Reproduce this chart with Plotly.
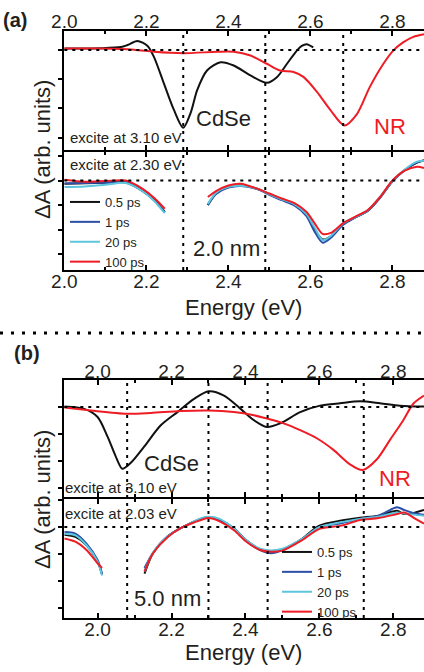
import plotly.graph_objects as go

# ---------------- data ----------------
# panel (a), upper: excite at 3.10 eV
a_cdse_E = [2.00, 2.09, 2.138, 2.154, 2.178, 2.203, 2.219, 2.243, 2.267, 2.290, 2.308, 2.324, 2.348,
            2.381, 2.413, 2.454, 2.494, 2.519, 2.543, 2.567, 2.579, 2.591, 2.607]
a_cdse_v = [0.05, 0.06, 0.10, 0.17, 0.31, 0.14, -0.25, -1.15, -2.04, -2.66, -2.15, -1.37, -0.70,
            -0.42, -0.53, -0.87, -1.12, -0.92, -0.47, -0.02, 0.14, 0.20, 0.09]
a_nr_E = [2.00, 2.089, 2.170, 2.219, 2.290, 2.373, 2.413, 2.454, 2.494, 2.526, 2.559, 2.583, 2.616,
          2.648, 2.683, 2.713, 2.745, 2.778, 2.802, 2.826, 2.851, 2.877]
a_nr_v = [0.05, 0.05, 0.01, -0.06, -0.11, -0.06, -0.06, -0.19, -0.47, -0.70, -0.75, -0.92, -1.43,
          -2.04, -2.58, -2.20, -1.26, -0.47, -0.02, 0.26, 0.45, 0.54]

# panel (a), lower: excite at 2.30 eV (two spectral windows)
a_lo_E = [2.00, 2.05, 2.10, 2.15, 2.19, 2.22, 2.245, None,
          2.35, 2.37, 2.40, 2.43, 2.47, 2.50, 2.53, 2.56, 2.59, 2.61, 2.63, 2.65, 2.68,
          2.71, 2.74, 2.77, 2.80, 2.83, 2.86, 2.877]
a_lo_05 = [-0.13, -0.11, -0.09, -0.07, -0.40, -0.80, -1.28, None,
           -1.00, -0.53, -0.27, -0.20, -0.33, -0.56, -0.77, -0.96, -1.40, -1.97, -2.40, -2.27, -1.76,
           -1.49, -1.23, -0.69, -0.03, 0.43, 0.73, 0.83]
a_lo_1 = [-0.12, -0.10, -0.09, -0.08, -0.42, -0.82, -1.30, None,
          -1.00, -0.55, -0.29, -0.22, -0.35, -0.58, -0.80, -1.00, -1.44, -2.07, -2.53, -2.33, -1.80,
          -1.50, -1.24, -0.70, -0.04, 0.42, 0.74, 0.82]
a_lo_20 = [-0.26, -0.24, -0.17, -0.10, -0.42, -0.84, -1.33, None,
           -0.95, -0.50, -0.26, -0.21, -0.33, -0.55, -0.76, -0.95, -1.36, -1.90, -2.43, -2.25, -1.74,
           -1.48, -1.21, -0.66, -0.02, 0.45, 0.77, 0.80]
a_lo_100 = [0.03, -0.05, -0.02, 0.00, -0.33, -0.72, -1.15, None,
            -0.67, -0.43, -0.20, -0.13, -0.33, -0.53, -0.73, -0.91, -1.27, -1.73, -2.17, -2.13, -1.73,
            -1.47, -1.20, -0.67, 0.00, 0.40, 0.56, 0.51]

# panel (b), upper: excite at 3.10 eV
b_cdse_E = [1.910, 1.964, 2.000, 2.027, 2.049, 2.067, 2.090, 2.126, 2.171, 2.216, 2.261, 2.301, 2.342,
            2.387, 2.423, 2.458, 2.494, 2.548, 2.602, 2.656, 2.710, 2.764, 2.818, 2.883]
b_cdse_v = [0.02, -0.07, -0.37, -1.10, -1.83, -2.29, -2.07, -1.47, -0.68, -0.19, 0.30, 0.58, 0.42,
            -0.07, -0.49, -0.74, -0.61, -0.19, 0.05, 0.14, 0.21, 0.14, 0.05, 0.02]
b_nr_E = [1.910, 1.982, 2.079, 2.144, 2.225, 2.301, 2.369, 2.423, 2.458, 2.503, 2.548, 2.593, 2.638,
          2.683, 2.717, 2.755, 2.791, 2.827, 2.854, 2.883]
b_nr_v = [-0.02, -0.13, -0.25, -0.22, -0.15, -0.13, -0.19, -0.31, -0.43, -0.61, -0.86, -1.16, -1.59,
          -2.13, -2.34, -1.95, -1.22, -0.49, 0.12, 0.42]

# panel (b), lower: excite at 2.03 eV
b_lo_E = [1.91, 1.94, 1.97, 2.00, 2.012, None,
          2.127, 2.15, 2.19, 2.23, 2.28, 2.30, 2.33, 2.37, 2.40, 2.44, 2.47, 2.50, 2.55, 2.60,
          2.66, 2.71, 2.76, 2.81, 2.83, 2.86, 2.883]
b_lo_05 = [-0.29, -0.37, -0.68, -1.29, -1.77, None,
           -1.74, -0.98, -0.35, -0.01, 0.30, 0.36, 0.26, -0.07, -0.47, -0.84, -0.92, -0.84, -0.47, 0.05,
           0.24, 0.34, 0.42, 0.60, 0.48, 0.54, 0.63]
b_lo_1 = [-0.19, -0.25, -0.62, -1.23, -1.74, None,
          -1.53, -0.96, -0.35, -0.01, 0.30, 0.36, 0.26, -0.07, -0.49, -0.86, -0.98, -0.86, -0.49, -0.01,
          0.14, 0.30, 0.42, 0.73, 0.63, 0.50, 0.45]
b_lo_20 = [-0.25, -0.31, -0.68, -1.29, -1.81, None,
           -1.65, -0.96, -0.35, -0.01, 0.33, 0.38, 0.30, -0.07, -0.47, -0.81, -0.88, -0.81, -0.47, -0.01,
           0.18, 0.30, 0.38, 0.54, 0.50, 0.45, 0.42]
b_lo_100 = [-0.43, -0.55, -0.86, -1.35, -1.53, None,
            -1.65, -0.98, -0.37, -0.01, 0.26, 0.33, 0.21, -0.13, -0.52, -0.86, -0.92, -0.88, -0.52, -0.07,
            0.05, 0.26, 0.33, 0.48, 0.54, 0.30, 0.12]

delays = ["0.5 ps", "1 ps", "20 ps", "100 ps"]
delay_colors = ["#111111", "#2c4ea6", "#5cc6de", "#ee1c24"]

a_marks = [2.29, 2.49, 2.68]
b_marks = [2.08, 2.30, 2.46, 2.72]

# ---------------- figure ----------------
FONT = "Liberation Sans, Arial, sans-serif"
TXT = "#231f20"
RED = "#ee1c24"

fig = go.Figure()

def line(x, y, color, xa, ya, name=None, legend=None, show=False):
    fig.add_trace(go.Scatter(x=x, y=y, mode="lines", xaxis=xa, yaxis=ya,
                             line=dict(color=color, width=2, shape="spline", smoothing=0.8),
                             name=name, showlegend=show, legend=legend,
                             connectgaps=False, hoverinfo="skip"))

line(a_cdse_E, a_cdse_v, "#111111", "x", "y")
line(a_nr_E, a_nr_v, RED, "x", "y")
for nm, col, vals in zip(delays, delay_colors, [a_lo_05, a_lo_1, a_lo_20, a_lo_100]):
    line(a_lo_E, vals, col, "x2", "y2", name=nm, legend="legend", show=True)
line(b_cdse_E, b_cdse_v, "#111111", "x3", "y3")
line(b_nr_E, b_nr_v, RED, "x3", "y3")
for nm, col, vals in zip(delays, delay_colors, [b_lo_05, b_lo_1, b_lo_20, b_lo_100]):
    line(b_lo_E, vals, col, "x4", "y4", name=nm, legend="legend2", show=True)

W, H = 424, 672
def py(p):
    return 1 - p / H
def px(p):
    return p / W

# plot-area edges (axis lines are drawn 1px outside these)
XDOM = [px(64.3), 1.0]
dom = {
    "y": [py(150), py(31)],
    "y2": [py(270), py(152)],
    "y3": [py(497.3), py(380.3)],
    "y4": [py(618), py(499.3)],
}

def xax(rng, side, anchor):
    return dict(domain=XDOM, range=rng, side=side, anchor=anchor, dtick=0.2, tick0=2.0,
                tickformat=".1f", ticks="inside", ticklen=5, tickwidth=1.5, tickcolor="black",
                minor=dict(dtick=0.1, ticks="inside", ticklen=3, tickcolor="black", tickwidth=1.5),
                showline=True, linecolor="black", linewidth=2, mirror="ticks",
                showgrid=False, zeroline=False, ticklabelstandoff=-7, automargin=False,
                tickfont=dict(family=FONT, size=19, color=TXT))

def yax(rng, key, anchor):
    return dict(domain=dom[key], range=rng, anchor=anchor, dtick=1, tick0=0,
                ticks="outside", ticklen=4, tickwidth=1.5, tickcolor="black",
                showticklabels=False, showline=True, linecolor="black", linewidth=2,
                mirror=True, showgrid=False, zeroline=False, automargin=False)

fig.update_layout(
    width=W, height=H, margin=dict(l=0, r=0, t=0, b=0, autoexpand=False),
    paper_bgcolor="white", plot_bgcolor="white",
    font=dict(family=FONT, color=TXT),
    xaxis=xax([2.0, 2.877], "top", "y"),
    xaxis2=xax([2.0, 2.877], "bottom", "y2"),
    xaxis3=xax([1.91, 2.883], "top", "y3"),
    xaxis4=xax([1.91, 2.883], "bottom", "y4"),
    yaxis=yax([-3.42, 0.65], "y", "x"),
    yaxis2=yax([-3.64, 1.16], "y2", "x2"),
    yaxis3=yax([-3.35, 0.99], "y3", "x3"),
    yaxis4=yax([-3.39, 1.03], "y4", "x4"),
    legend=dict(x=px(65), y=py(187), xanchor="left", yanchor="top",
                bgcolor="rgba(0,0,0,0)", font=dict(family=FONT, size=13, color=TXT),
                tracegroupgap=0, itemwidth=30),
    legend2=dict(x=px(277), y=py(537), xanchor="left", yanchor="top",
                 bgcolor="rgba(0,0,0,0)", font=dict(family=FONT, size=13, color=TXT),
                 tracegroupgap=0, itemwidth=30),
)

shapes = []
DOT = dict(color="black", width=2, dash="3px,5px")
# horizontal zero lines
for yref in ["y", "y2", "y3", "y4"]:
    shapes.append(dict(type="line", xref="paper", x0=XDOM[0], x1=1, yref=yref, y0=0, y1=0, line=DOT))
# vertical marker lines
for e in a_marks:
    shapes.append(dict(type="line", xref="x", x0=e, x1=e, yref="paper",
                       y0=dom["y2"][0], y1=dom["y"][1], line=DOT))
for e in b_marks:
    shapes.append(dict(type="line", xref="x3", x0=e, x1=e, yref="paper",
                       y0=dom["y4"][0], y1=dom["y3"][1], line=DOT))
# separator between (a) and (b)
shapes.append(dict(type="line", xref="paper", x0=0, x1=1, yref="paper", y0=py(333), y1=py(333),
                   line=dict(color="black", width=3, dash="3px,8px")))
fig.update_layout(shapes=shapes)

ann = []
def t(text, x, y, size, color=TXT, xanchor="left", angle=0, bold=False):
    ann.append(dict(text=("<b>%s</b>" % text) if bold else text, x=px(x), y=py(y),
                    xref="paper", yref="paper", xanchor=xanchor, yanchor="middle",
                    showarrow=False, textangle=angle,
                    font=dict(family=FONT, size=size, color=color)))

t("(a)", 1, 20, 20, bold=True)
t("(b)", 12, 353, 20, bold=True)
t("excite at 3.10 eV", 68, 137, 15)
t("excite at 2.30 eV", 68, 164, 15)
t("CdSe", 194, 118, 22)
t("NR", 372, 126, 22, color=RED)
t("2.0 nm", 191, 248, 22)
t("excite at 3.10 eV", 63, 487, 15)
t("excite at 2.03 eV", 63, 513, 15)
t("CdSe", 142, 463, 22)
t("NR", 377, 478, 22, color=RED)
t("5.0 nm", 132, 598, 22)
t("Energy (eV)", (63.3 + 424) / 2, 307, 22, xanchor="center")
t("Energy (eV)", (63.3 + 424) / 2, 652, 22, xanchor="center")
t("ΔA (arb. units)", 42, 150, 22, xanchor="center", angle=-90)
t("ΔA (arb. units)", 42, 500, 22, xanchor="center", angle=-90)
fig.update_layout(annotations=ann)

fig.write_html("out.html")
